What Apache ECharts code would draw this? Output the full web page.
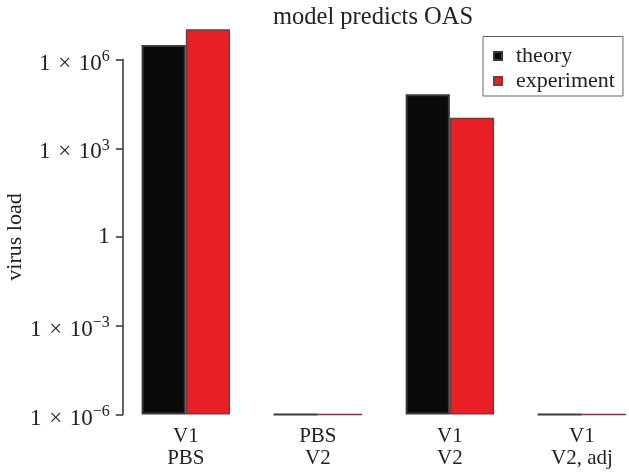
<!DOCTYPE html>
<html><head><meta charset="utf-8">
<script src="https://cdn.jsdelivr.net/npm/echarts@6/dist/echarts.min.js"></script>
<style>html,body{margin:0;padding:0;background:#fff}#c{width:629px;height:472px}</style>
</head><body><div id="c"></div>
<script>
const categories = ['V1\nPBS', 'PBS\nV2', 'V1\nV2', 'V1\nV2, adj'];
const theory = [3.1e6, 1e-6, 6.7e4, 1e-6];
const experiment = [1.05e7, 1e-6, 1.08e4, 1e-6];
const seriesNames = ['theory', 'experiment'];
const yTickExponents = [-6, -3, 0, 3, 6];

// bars start at the bottom of the log axis (1e-6), so values are plotted as decades above it
const baseExp = yTickExponents[0];
const toDecades = v => Math.log10(v) - baseExp;

const FONT = "'Liberation Serif', 'DejaVu Serif', serif";
const chart = echarts.init(document.getElementById('c'), null, {renderer: 'canvas'});
function fmt(d) {
  const e = Math.round(d + baseExp);
  if (e === 0) return '{one|1}';
  return '{b|1 \u200a×\u200a 10}{sup|' + String(e).replace('-', '\u2212') + '}';
}
chart.setOption({
  animation: false,
  backgroundColor: '#fff',
  title: {
    text: 'model predicts OAS', left: 268, top: 0,
    textStyle: {fontFamily: FONT, fontSize: 24.5, fontWeight: 'normal', color: '#222'}
  },
  legend: {
    data: seriesNames, left: 483, top: 36.5, orient: 'vertical',
    icon: 'rect', itemWidth: 8, itemHeight: 8, itemGap: 3,
    padding: [8.5, 8, 4, 10],
    borderColor: '#666', borderWidth: 1,
    textStyle: {fontFamily: FONT, fontSize: 22, color: '#222', lineHeight: 22, padding: [0, 0, 0, 9]}
  },
  grid: {left: 119.8, right: -18.9, top: 59.5, bottom: 57.5, containLabel: false, outerBoundsMode: 'none'},
  xAxis: {
    type: 'category', data: categories,
    axisLine: {show: false}, axisTick: {show: false}, splitLine: {show: false},
    axisLabel: {fontFamily: FONT, fontSize: 21, color: '#222', lineHeight: 22, margin: 11, interval: 0}
  },
  yAxis: {
    type: 'value', min: 0, max: yTickExponents[yTickExponents.length - 1] - baseExp, interval: 3,
    offset: -3,
    name: 'virus load', nameLocation: 'middle', nameGap: 97, nameRotate: 90, nameMoveOverlap: false,
    nameTextStyle: {fontFamily: FONT, fontSize: 22, color: '#222'},
    axisLine: {show: true, lineStyle: {color: '#333', width: 1.5}},
    axisTick: {show: true, inside: false, length: 7, lineStyle: {color: '#333', width: 1.5}},
    splitLine: {show: false},
    axisLabel: {
      margin: 13, formatter: fmt, color: '#222',
      rich: {
        one: {fontFamily: FONT, fontSize: 23, color: '#222'},
        b: {fontFamily: FONT, fontSize: 23, color: '#222', verticalAlign: 'bottom', padding: [8, 0, 0, 0]},
        sup: {fontFamily: FONT, fontSize: 16, color: '#222', verticalAlign: 'top', padding: [5, 0, 0, 0]}
      }
    }
  },
  series: [
    {name: seriesNames[0], type: 'bar', data: theory.map(toDecades), clip: false, barGap: '0%', barCategoryGap: '33%',
     itemStyle: {color: '#0a0a0a', borderColor: '#3a3a3a', borderWidth: 2}},
    {name: seriesNames[1], type: 'bar', data: experiment.map(toDecades), clip: false,
     itemStyle: {color: '#e81f25', borderColor: '#7a3a3c', borderWidth: 1.5}}
  ]
});
</script></body></html>
